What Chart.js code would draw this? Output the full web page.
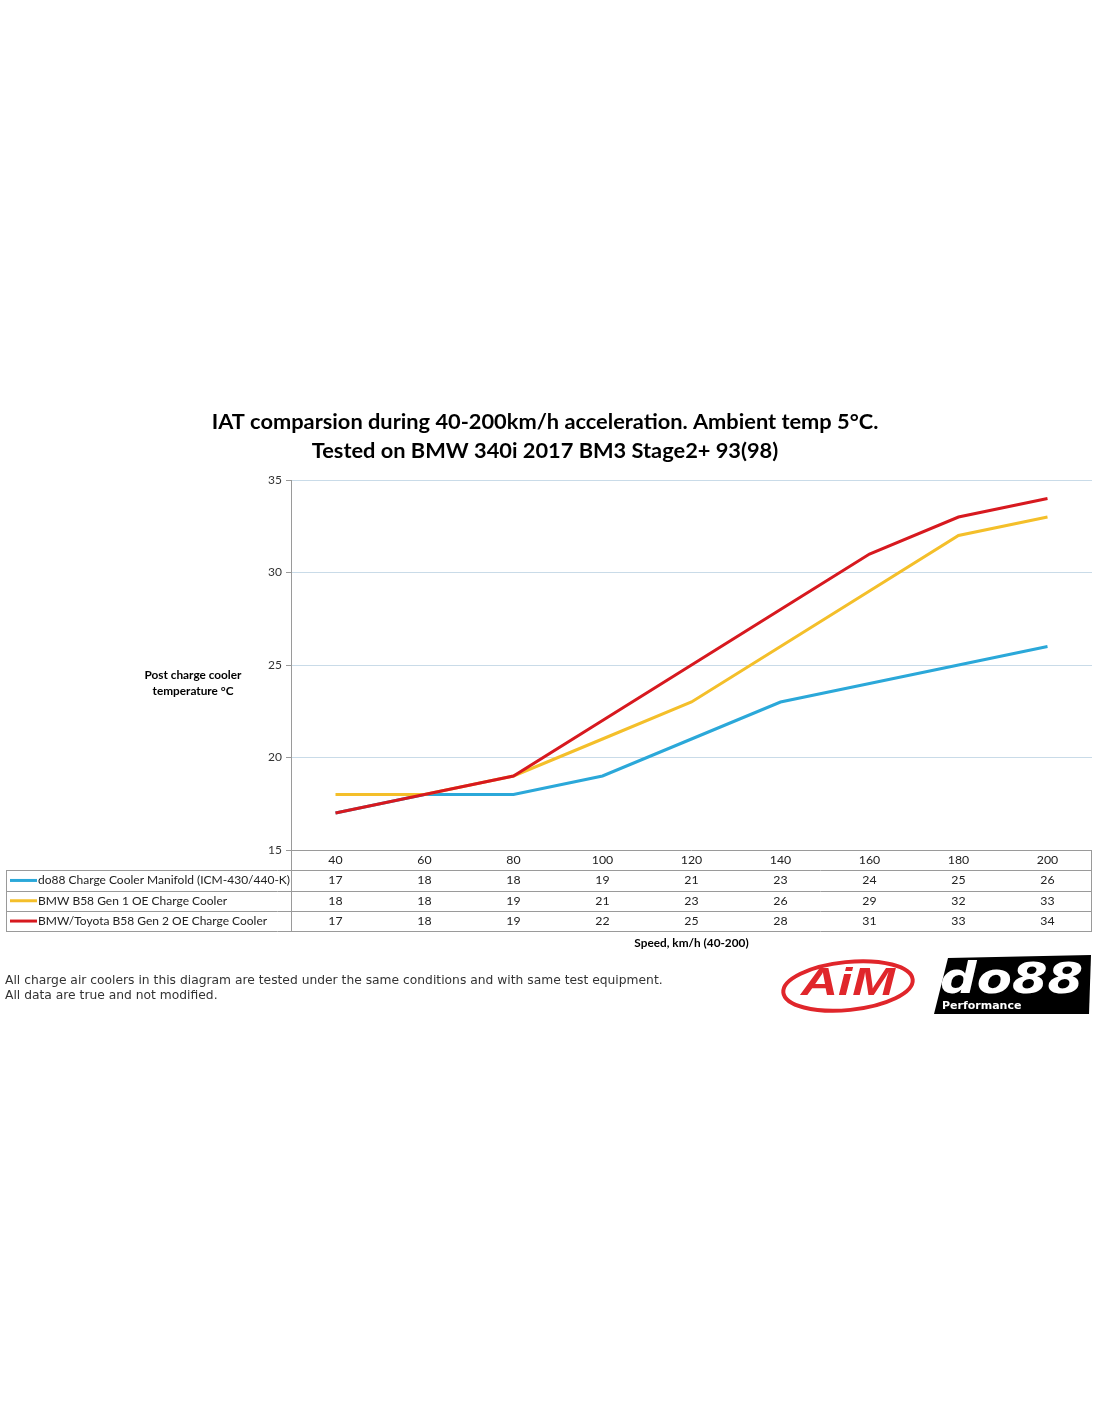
<!DOCTYPE html>
<html>
<head>
<meta charset="utf-8">
<title>IAT comparison</title>
<script src="https://cdn.jsdelivr.net/npm/chart.js@4.4.1/dist/chart.umd.min.js"></script>
<style>
  body { margin: 0; background: #fff; }
  #iat { display: block; }
</style>
</head>
<body>
<canvas id="iat" width="1100" height="1422"></canvas>
<script>
const speeds = ['40', '60', '80', '100', '120', '140', '160', '180', '200'];   // km/h, the categories
const do88Data = [17, 18, 18, 19, 21, 23, 24, 25, 26];                        // do88 manifold
const gen1Data = [18, 18, 19, 21, 23, 26, 29, 32, 33];                        // BMW B58 Gen 1
const gen2Data = [17, 18, 19, 22, 25, 28, 31, 33, 34];                        // BMW/Toyota B58 Gen 2
const seriesNames = ['do88 Charge Cooler Manifold (ICM-430/440-K)', 'BMW B58 Gen 1 OE Charge Cooler', 'BMW/Toyota B58 Gen 2 OE Charge Cooler'];
const seriesColors = ['#2ba8d9', '#f4bf2a', '#d7191f'];
const yTicks = [15, 20, 25, 30, 35];

const titleLines = ['IAT comparsion during 40-200km/h acceleration. Ambient temp 5°C.', 'Tested on BMW 340i 2017 BM3 Stage2+ 93(98)'];
const yTitle = ['Post charge cooler', 'temperature °C'];
const xTitle = 'Speed, km/h (40-200)';
const notes = ['All charge air coolers in this diagram are tested under the same conditions and with same test equipment.', 'All data are true and not modified.'];

const calibri = 'Lato, "Open Sans", sans-serif';

/* Draws the title, the axis captions, the data table, the notes and the logos. */
const extras = {
    id: 'extras',
    afterDraw(chart) {
        const ctx = chart.ctx;
        const area = chart.chartArea;
        const xs = chart.scales.x;
        ctx.save();
        ctx.fillStyle = '#000';
        ctx.textAlign = 'center';
        ctx.textBaseline = 'middle';

        // title
        ctx.font = 'bold 21.8px ' + calibri;
        ctx.fillText(titleLines[0], 545, 422);
        ctx.fillText(titleLines[1], 545, 451);

        // y axis caption
        ctx.font = 'bold 11.8px ' + calibri;
        ctx.fillText(yTitle[0], 193, 675);
        ctx.fillText(yTitle[1], 193, 691);

        // data table
        const left = 6, right = area.right, top = area.bottom, rowH = 20.3;
        ctx.strokeStyle = '#9a9a9a';
        ctx.lineWidth = 1;
        ctx.beginPath();
        ctx.moveTo(area.left, top + 0.5); ctx.lineTo(right, top + 0.5);
        ctx.moveTo(area.left + 0.5, top); ctx.lineTo(area.left + 0.5, top + rowH * 4);
        ctx.moveTo(right - 0.5, top); ctx.lineTo(right - 0.5, top + rowH * 4);
        for (let r = 1; r <= 4; r++) {
            const y = Math.round(top + rowH * r) + 0.5;
            ctx.moveTo(left, y); ctx.lineTo(right, y);
        }
        ctx.moveTo(left + 0.5, top + rowH); ctx.lineTo(left + 0.5, top + rowH * 4);
        ctx.stroke();

        ctx.font = '12.3px ' + calibri;
        ctx.fillStyle = '#222';
        const rows = [do88Data, gen1Data, gen2Data];
        speeds.forEach((s, i) => {
            const cx = xs.getPixelForValue(i);
            ctx.fillText(s, cx, top + rowH * 0.5);
            rows.forEach((vals, r) => ctx.fillText(String(vals[i]), cx, top + rowH * (r + 1.5)));
        });
        ctx.textAlign = 'left';
        ctx.font = '12px ' + calibri;
        rows.forEach((vals, r) => {
            const y = top + rowH * (r + 1.5);
            ctx.strokeStyle = seriesColors[r];
            ctx.lineWidth = 3;
            ctx.beginPath(); ctx.moveTo(10, y); ctx.lineTo(37, y); ctx.stroke();
            ctx.fillText(seriesNames[r], 38, y);
        });

        // x axis caption
        ctx.textAlign = 'center';
        ctx.font = 'bold 11.8px ' + calibri;
        ctx.fillStyle = '#000';
        ctx.fillText(xTitle, (area.left + area.right) / 2, 943);

        // notes
        ctx.textAlign = 'left';
        ctx.font = '12.3px "DejaVu Sans", Verdana, sans-serif';
        ctx.fillStyle = '#333';
        ctx.fillText(notes[0], 5, 981);
        ctx.fillText(notes[1], 5, 996);

        // AiM logo
        ctx.strokeStyle = '#e0262b';
        ctx.lineWidth = 4;
        ctx.beginPath();
        ctx.ellipse(848, 986, 65, 24, -0.1, 0, Math.PI * 2);
        ctx.stroke();
        ctx.fillStyle = '#e0262b';
        ctx.textAlign = 'center';
        ctx.save();
        ctx.translate(848, 985);
        ctx.scale(1.35, 1);
        ctx.font = 'italic bold 38px "Liberation Sans", Arial, sans-serif';
        ctx.fillText('AiM', 0, 0);
        ctx.restore();

        // do88 logo
        ctx.fillStyle = '#000';
        ctx.beginPath();
        ctx.moveTo(948, 958); ctx.lineTo(1091, 955); ctx.lineTo(1089, 1014); ctx.lineTo(934, 1014);
        ctx.closePath();
        ctx.fill();
        ctx.fillStyle = '#fff';
        ctx.textAlign = 'left';
        ctx.save();
        ctx.translate(940, 982);
        ctx.scale(1.22, 1);
        ctx.font = 'italic 900 42px "DejaVu Sans", sans-serif';
        ctx.fillText('do88', 0, 0);
        ctx.restore();
        ctx.font = 'bold 11px "DejaVu Sans", sans-serif';
        ctx.fillText('Performance', 942, 1006);
        ctx.restore();
    }
};

const chart = new Chart(document.getElementById('iat'), {
    type: 'line',
    data: {
        labels: speeds,
        datasets: [
            {label: seriesNames[0], data: do88Data, borderColor: seriesColors[0], backgroundColor: seriesColors[0], order: 3},
            {label: seriesNames[1], data: gen1Data, borderColor: seriesColors[1], backgroundColor: seriesColors[1], order: 2},
            {label: seriesNames[2], data: gen2Data, borderColor: seriesColors[2], backgroundColor: seriesColors[2], order: 1}
        ]
    },
    options: {
        responsive: false,
        animation: false,
        elements: {
            line: {borderWidth: 3, tension: 0},
            point: {radius: 0}
        },
        layout: {padding: {left: 0, right: 8, top: 480, bottom: 572}},
        plugins: {
            legend: {display: false},
            tooltip: {enabled: false}
        },
        scales: {
            x: {display: false, offset: true},
            y: {
                min: 15,
                max: 35,
                afterFit: (scale) => { scale.width = 291; },
                afterBuildTicks: (scale) => { scale.ticks = yTicks.map(v => ({value: v})); },
                border: {color: '#9a9a9a', width: 1},
                grid: {
                    color: (c) => c.tick && c.tick.value === 15 ? 'rgba(0,0,0,0)' : '#c9dbe8',
                    tickColor: '#9a9a9a',
                    tickLength: 5
                },
                ticks: {
                    padding: 4,
                    color: '#333',
                    font: {family: calibri, size: 12}
                }
            }
        }
    },
    plugins: [extras]
});
</script>
</body>
</html>
